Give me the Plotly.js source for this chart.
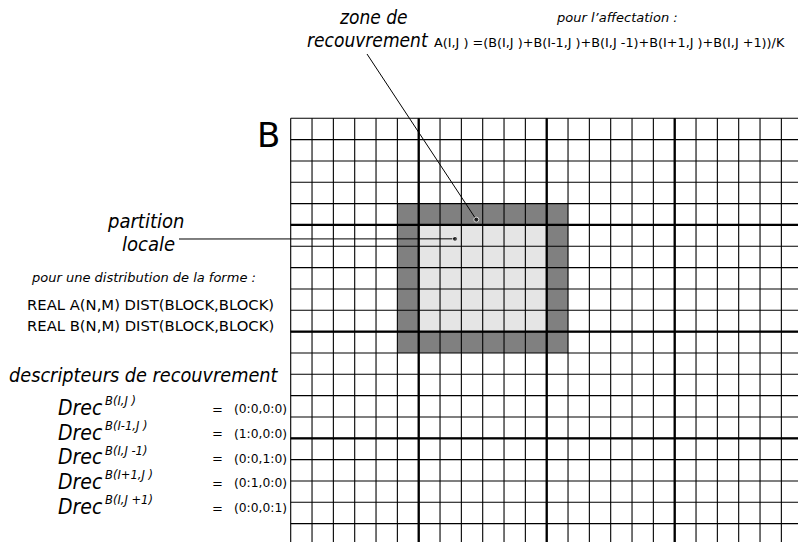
<!DOCTYPE html>
<html>
<head>
<meta charset="utf-8">
<script src="https://cdn.plot.ly/plotly-3.0.1.min.js"></script>
<style>html,body{margin:0;padding:0;background:#fff;}#chart{width:798px;height:542px;}</style>
</head>
<body>
<div id="chart"></div>
<script>
// ---------- data ----------
const gridColumnLines = [0,1,2,3,4,5,6,7,8,9,10,11,12,13,14,15,16,17,18,19,20,21,22,23];
const gridRowLines = [0,1,2,3,4,5,6,7,8,9,10,11,12,13,14,15,16,17,18,19];
const majorColumnLines = [6,12,18];
const majorRowLines = [5,10,15];
const localPartitionCols = [6,12];
const localPartitionRows = [5,10];
const overlapCells = [1,1,1,1]; // left, right, top, bottom
const zonePointer = [8.7, 4.75];
const partitionPointer = [7.7, 5.65];
const drecNeighbours = ['B(I,J )','B(I-1,J )','B(I,J -1)','B(I+1,J )','B(I,J +1)'];
const drecValues = ['(0:0,0:0)','(1:0,0:0)','(0:0,1:0)','(0:1,0:0)','(0:0,0:1)'];
const declarations = ['REAL A(N,M) DIST(BLOCK,BLOCK)','REAL B(N,M) DIST(BLOCK,BLOCK)'];
const formula = 'A(I,J ) =(B(I,J )+B(I-1,J )+B(I,J -1)+B(I+1,J )+B(I,J +1))/K';

// ---------- layout geometry ----------
const W = 798, H = 542;
const cell = 21.333, ox = 290.7, oy = 118.3;
const xr = [-ox / cell, (W - ox) / cell];
const yr = [(H - oy) / cell, -oy / cell];
const xEnd = xr[1] + 1, yEnd = yr[0] + 1;

function rectTrace(x0, x1, y0, y1, color) {
  return {type:'scatter', mode:'lines', x:[x0,x1,x1,x0,x0], y:[y0,y0,y1,y1,y0],
    fill:'toself', fillcolor:color, line:{width:0}, hoverinfo:'skip', showlegend:false};
}
function linesTrace(vals, vertical, width, color) {
  const x = [], y = [];
  vals.forEach(v => {
    if (vertical) { x.push(v, v, null); y.push(0, yEnd, null); }
    else { x.push(0, xEnd, null); y.push(v, v, null); }
  });
  return {type:'scatter', mode:'lines', x, y, line:{color, width}, hoverinfo:'skip', showlegend:false, connectgaps:false};
}

const traces = [];
traces.push(rectTrace(localPartitionCols[0]-overlapCells[0], localPartitionCols[1]+overlapCells[1],
                      localPartitionRows[0]-overlapCells[2], localPartitionRows[1]+overlapCells[3], '#808080'));
traces.push(rectTrace(localPartitionCols[0], localPartitionCols[1], localPartitionRows[0], localPartitionRows[1], '#e5e5e5'));
traces.push(linesTrace(gridColumnLines, true, 1.1, '#000'));
traces.push(linesTrace(gridRowLines, false, 1.1, '#000'));
traces.push(linesTrace(majorColumnLines, true, 2.3, '#000'));
traces.push(linesTrace(majorRowLines, false, 2.3, '#000'));
const pxToX = p => (p - ox) / cell, pxToY = p => (p - oy) / cell;
traces.push({type:'scatter', mode:'lines+markers', x:[pxToX(367), zonePointer[0]], y:[pxToY(54), zonePointer[1]],
  line:{color:'#000', width:1}, marker:{size:[0,5], color:'#000'}, hoverinfo:'skip', showlegend:false});
traces.push({type:'scatter', mode:'lines+markers', x:[pxToX(179), partitionPointer[0]], y:[pxToY(239), partitionPointer[1]],
  line:{color:'#000', width:1}, marker:{size:[0,5], color:'#000'}, hoverinfo:'skip', showlegend:false});

// ---------- text ----------
const FONTC = '"DejaVu Sans Condensed", "DejaVu Sans", sans-serif';
const FONTN = '"DejaVu Sans", sans-serif';
const anns = [];
function txt(text, x, y, size, italic, xanchor, fam) {
  anns.push({text: italic ? '<i>' + text + '</i>' : text, xref:'paper', yref:'paper',
    x: x / W, y: 1 - y / H, xanchor: xanchor || 'center', yanchor:'middle', showarrow:false,
    font:{family: fam || FONTC, size, color:'#000'}});
}
txt('B', 268, 135, 34, false, 'center', FONTN);
txt('zone de', 373, 17, 19, true);
txt('recouvrement', 368, 40, 19, true);
txt('pour l\u2019affectation :', 617, 17, 13, true, 'center', FONTN);
txt(formula, 432, 42, 12.8, false, 'left', FONTN);
txt('partition', 145, 221, 20, true);
txt('locale', 148, 244, 20, true);
txt('pour une distribution de la forme :', 143, 277, 13, true, 'center', FONTN);
declarations.forEach((d, i) => txt(d, 150, 304 + i * 21, 14.8, false, 'center', FONTN));
txt('descripteurs de recouvrement', 144, 375, 19.7, true);
drecNeighbours.forEach((n, i) => {
  const y = 408 + i * 24.75;
  txt('Drec', 56, y, 21, true, 'left');
  txt(n, 103, y - 7, 11.5, true, 'left', FONTN);
  txt('=', 217, y + 1, 13, false, 'center', FONTN);
  txt(drecValues[i], 232, y + 1, 12.3, false, 'left', FONTN);
});

const layout = {
  width: W, height: H, margin:{l:0, r:0, t:0, b:0},
  paper_bgcolor:'#fff', plot_bgcolor:'#fff', showlegend:false,
  xaxis:{range:xr, visible:false, fixedrange:true},
  yaxis:{range:yr, visible:false, fixedrange:true},
  annotations: anns
};
Plotly.newPlot('chart', traces, layout, {staticPlot:true, displayModeBar:false});
</script>
</body>
</html>
